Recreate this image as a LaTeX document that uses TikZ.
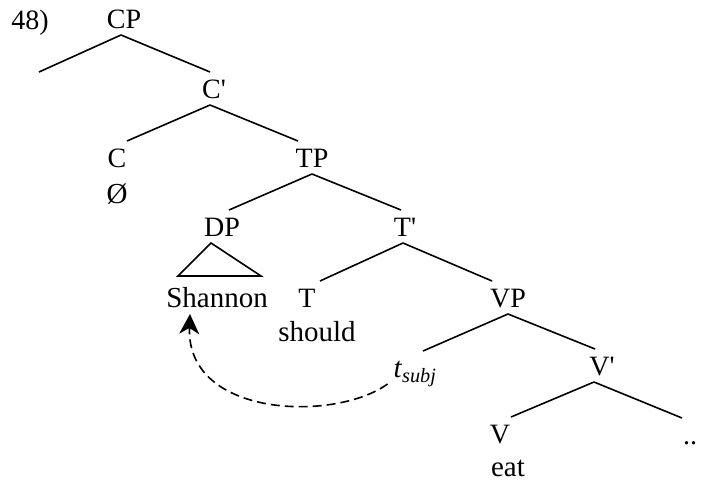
\documentclass[tikz,border=0pt]{standalone}
\usepackage{fontspec}
\setmainfont{Liberation Serif}
\usetikzlibrary{arrows.meta}
\tikzset{
  lab/.style={font=\fontsize{28}{30}\selectfont, inner sep=0pt, text height=19pt, text depth=0pt, outer xsep=0pt, outer ysep=7pt, anchor=base},
  word/.style={font=\fontsize{29}{31}\selectfont, inner sep=0pt, text height=19pt, text depth=0pt, outer xsep=0pt, outer ysep=7pt, anchor=base},
  branch/.style={line width=1.6pt},
  move/.style={line width=1.6pt, dash pattern=on 9pt off 5pt, -{Stealth[length=20pt,width=20pt,inset=6pt]}}
}
\begin{document}
\begin{tikzpicture}[x=1pt,y=-1pt]
\useasboundingbox (0,0) rectangle (701,482);
% labels
\node[lab] (ex) at (30,29) {48)};
\node[lab] (CP) at (124,28) {CP};
\node[lab] (Cbar) at (214,98) {C\textquotesingle};
\node[lab] (C) at (117,167) {C};
\node[word] (null) at (117,203) {Ø};
\node[lab] (TP) at (312,167) {TP};
\node[lab] (DP) at (222,236) {DP};
\node[lab] (Tbar) at (405,236) {T\textquotesingle};
\node[word] (Shannon) at (217,307) {Shannon};
\node[lab] (T) at (307,307) {T};
\node[word] (should) at (317,341) {should};
\node[lab] (VP) at (508,307) {VP};
\node[word] (tsubj) at (415,377) {\textit{t}\textsubscript{\textit{subj}}};
\node[lab] (Vbar) at (602,375) {V\textquotesingle};
\node[lab] (V) at (500,443) {V};
\node[lab] (dots) at (690,444) {..};
\node[word] (eat) at (508,476) {eat};
\coordinate (spec) at (39,72);
% branches
\draw[branch] ([xshift=-3pt]CP.south) -- (spec);
\draw[branch] ([xshift=-3pt]CP.south) -- ([xshift=-4pt]Cbar.north);
\draw[branch] ([xshift=-4pt]Cbar.south) -- ([xshift=10pt]C.north);
\draw[branch] ([xshift=-4pt]Cbar.south) -- ([xshift=-14pt]TP.north);
\draw[branch] (TP.south) -- ([xshift=7pt]DP.north);
\draw[branch] (TP.south) -- ([xshift=-4pt]Tbar.north);
\draw[branch] ([xshift=-11pt]DP.south) -- ++(-33,33) -- ++(83,0) -- cycle;
\draw[branch] ([xshift=-2pt]Tbar.south) -- ([xshift=13pt]T.north);
\draw[branch] ([xshift=-2pt]Tbar.south) -- ([xshift=-16pt]VP.north);
\draw[branch] (VP.south) -- ([xshift=8pt]tsubj.north);
\draw[branch] (VP.south) -- ([xshift=-7pt]Vbar.north);
\draw[branch] ([xshift=-8pt]Vbar.south) -- ([xshift=11pt]V.north);
\draw[branch] ([xshift=-8pt]Vbar.south) -- ([xshift=-8pt]dots.north);
% movement
\draw[move] ([xshift=-6pt]tsubj.south west) .. controls (335,422) and (186,418) .. ([xshift=-27pt]Shannon.south);
\end{tikzpicture}
\end{document}
